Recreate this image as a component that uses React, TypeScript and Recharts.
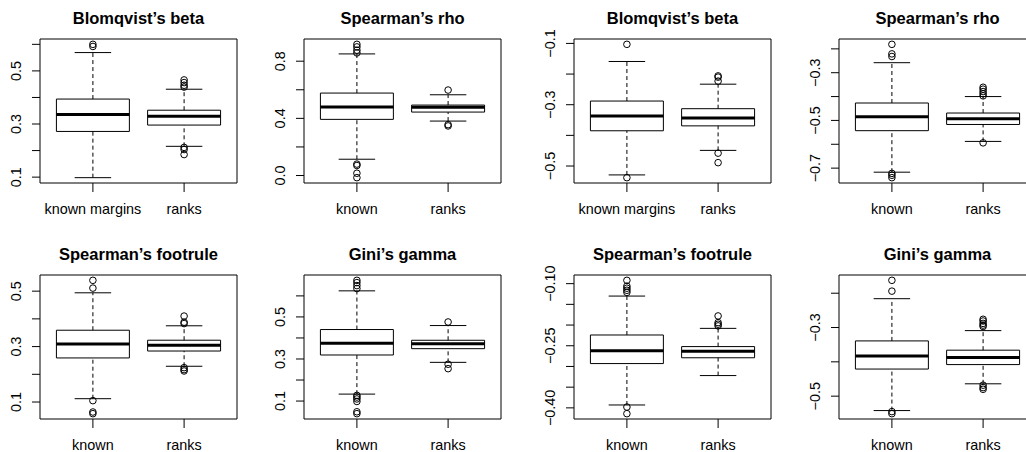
import { ScatterChart, Scatter, XAxis, YAxis, ReferenceArea, ReferenceLine } from "recharts";

// ─── Data ─────────────────────────────────────────────────────────────────────
// box stats per group: [lower whisker, Q1, median, Q3, upper whisker]
const titles = [
  "Blomqvist’s beta", "Spearman’s rho", "Blomqvist’s beta", "Spearman’s rho",
  "Spearman’s footrule", "Gini’s gamma", "Spearman’s footrule", "Gini’s gamma",
];
const longGroups = ["known margins", "ranks"];
const shortGroups = ["known", "ranks"];

const blomqvistPos = [[0.098, 0.272, 0.336, 0.394, 0.569], [0.216, 0.296, 0.329, 0.352, 0.431]];
const blomqvistPosOut = [[0.6, 0.592], [0.466, 0.456, 0.446, 0.439, 0.212, 0.204, 0.185]];
const rhoPos = [[0.114, 0.393, 0.479, 0.577, 0.851], [0.381, 0.444, 0.477, 0.493, 0.565]];
const rhoPosOut = [[0.918, 0.9, 0.877, 0.858, 0.08, 0.07, 0.016, -0.015], [0.598, 0.356, 0.347]];
const blomqvistNeg = [[-0.529, -0.385, -0.337, -0.288, -0.159], [-0.449, -0.369, -0.343, -0.313, -0.233]];
const blomqvistNegOut = [[-0.103, -0.538], [-0.206, -0.21, -0.223, -0.458, -0.489]];
const rhoNeg = [[-0.717, -0.543, -0.485, -0.427, -0.258], [-0.588, -0.517, -0.493, -0.469, -0.4]];
const rhoNegOut = [[-0.181, -0.221, -0.232, -0.722, -0.73, -0.74], [-0.361, -0.369, -0.379, -0.388, -0.397, -0.594]];
const footrulePos = [[0.112, 0.259, 0.309, 0.359, 0.494], [0.229, 0.284, 0.305, 0.323, 0.375]];
const footrulePosOut = [[0.539, 0.511, 0.105, 0.064, 0.058], [0.41, 0.388, 0.383, 0.224, 0.217, 0.212]];
const giniPos = [[0.133, 0.319, 0.375, 0.44, 0.624], [0.284, 0.349, 0.373, 0.389, 0.459]];
const giniPosOut = [[0.674, 0.663, 0.649, 0.635, 0.127, 0.119, 0.11, 0.098, 0.049, 0.04], [0.476, 0.275, 0.254]];
const footruleNeg = [[-0.393, -0.293, -0.262, -0.224, -0.13], [-0.322, -0.279, -0.263, -0.252, -0.208]];
const footruleNegOut = [[-0.092, -0.106, -0.111, -0.116, -0.121, -0.398, -0.414], [-0.178, -0.194, -0.198, -0.202]];
const giniNeg = [[-0.542, -0.421, -0.383, -0.339, -0.216], [-0.464, -0.408, -0.387, -0.366, -0.309]];
const giniNegOut = [[-0.1625, -0.194, -0.545, -0.551], [-0.276, -0.281, -0.288, -0.293, -0.297, -0.468, -0.475, -0.48]];

// y ticks (all) and the ones that carry a label
const ticks1 = [0.1, 0.2, 0.3, 0.4, 0.5, 0.6];
const ticks2 = [0, 0.2, 0.4, 0.6, 0.8];
const ticks3 = [-0.5, -0.4, -0.3, -0.2, -0.1];
const ticks4 = [-0.7, -0.6, -0.5, -0.4, -0.3, -0.2];
const ticks5 = [0.1, 0.2, 0.3, 0.4, 0.5];
const ticks6 = [0.1, 0.2, 0.3, 0.4, 0.5, 0.6];
const ticks7 = [-0.4, -0.35, -0.3, -0.25, -0.2, -0.15, -0.1];
const ticks8 = [-0.5, -0.4, -0.3, -0.2];
const labels1 = [0.1, 0.3, 0.5];
const labels2 = [0, 0.4, 0.8];
const labels3 = [-0.5, -0.3, -0.1];
const labels4 = [-0.7, -0.5, -0.3];
const labels5 = [0.1, 0.3, 0.5];
const labels6 = [0.1, 0.3, 0.5];
const labels7 = [-0.4, -0.25, -0.1];
const labels8 = [-0.5, -0.3];

const panels = [
  { stats: blomqvistPos, out: blomqvistPosOut, ticks: ticks1, labels: labels1, groups: longGroups, digits: 1 },
  { stats: rhoPos, out: rhoPosOut, ticks: ticks2, labels: labels2, groups: shortGroups, digits: 1 },
  { stats: blomqvistNeg, out: blomqvistNegOut, ticks: ticks3, labels: labels3, groups: longGroups, digits: 1 },
  { stats: rhoNeg, out: rhoNegOut, ticks: ticks4, labels: labels4, groups: shortGroups, digits: 1 },
  { stats: footrulePos, out: footrulePosOut, ticks: ticks5, labels: labels5, groups: shortGroups, digits: 1 },
  { stats: giniPos, out: giniPosOut, ticks: ticks6, labels: labels6, groups: shortGroups, digits: 1 },
  { stats: footruleNeg, out: footruleNegOut, ticks: ticks7, labels: labels7, groups: shortGroups, digits: 2 },
  { stats: giniNeg, out: giniNegOut, ticks: ticks8, labels: labels8, groups: shortGroups, digits: 1 },
];

// ─── Layout ───────────────────────────────────────────────────────────────────
const CHART_W = 258;
const CHART_H = 226;
const LEFTS = [0, 264, 534, 799];
const TOPS = [0, 236];
const X_DOMAIN = [0.42, 2.58];
const FONT = "'Liberation Sans', Arial, Helvetica, sans-serif";
const INK = "#000";

const fmt = (v: number, digits: number) => {
  const s = Math.abs(v).toFixed(digits);
  return v < 0 ? `\u2212${s}` : s;
};

const YTick = ({ x, y, payload, labels, digits }: any) => {
  const show = labels.some((l: number) => Math.abs(l - payload.value) < 1e-9);
  if (!show) return null;
  const bx = x - 11;
  return (
    <text x={bx} y={y} transform={`rotate(-90, ${bx}, ${y})`} textAnchor="middle"
      fontSize={14.4} fill={INK} fontFamily={FONT}>
      {fmt(payload.value, digits)}
    </text>
  );
};

const Ring = (p: any) => <circle cx={p.cx} cy={p.cy} r={3.3} fill="none" stroke={INK} strokeWidth={1} />;

const Panel = ({ idx }: { idx: number }) => {
  const p = panels[idx];
  const all = [...p.stats.flat(), ...p.out.flat()];
  const lo = Math.min(...all);
  const hi = Math.max(...all);
  const pad = (hi - lo) * 0.04;
  const yDomain = [lo - pad, hi + pad];
  const points = p.out.flatMap((vals, g) => vals.map((v) => ({ x: g + 1, y: v })));
  const left = LEFTS[idx % 4];
  const top = TOPS[Math.floor(idx / 4)];

  return (
    <div style={{ position: "absolute", left, top, width: CHART_W, height: CHART_H }}>
      <div style={{
        position: "absolute", left: 40 + 98.5, top: 10, transform: "translateX(-50%)",
        whiteSpace: "nowrap", fontSize: 16.5, lineHeight: "16.5px", fontWeight: "bold", fontFamily: FONT, color: INK,
      }}>
        {titles[idx]}
      </div>
      <ScatterChart width={CHART_W} height={CHART_H} margin={{ top: 39, right: 21, bottom: 0, left: 0 }}>
        <XAxis type="number" dataKey="x" domain={X_DOMAIN} ticks={[1, 2]} interval={0} allowDataOverflow
          height={43} axisLine={false} tickSize={9} tickMargin={12}
          tickLine={{ stroke: INK }} tick={{ fontSize: 14.4, fill: INK }}
          tickFormatter={(v: number) => p.groups[v - 1]} />
        <YAxis type="number" dataKey="y" domain={yDomain} ticks={p.ticks} interval={0} allowDataOverflow
          width={40} axisLine={false} tickSize={8} tickMargin={0} tickLine={{ stroke: INK }}
          tick={<YTick labels={p.labels} digits={p.digits} />} />
        <ReferenceArea x1={X_DOMAIN[0]} x2={X_DOMAIN[1]} y1={yDomain[0]} y2={yDomain[1]}
          fill="none" fillOpacity={0} stroke={INK} strokeWidth={1} ifOverflow="visible" />
        {p.stats.map((s, g) => {
          const c = g + 1;
          const [wLo, q1, med, q3, wHi] = s;
          return [
            <ReferenceLine key={`wu${g}`} segment={[{ x: c, y: q3 }, { x: c, y: wHi }]} stroke={INK} strokeDasharray="4 3" ifOverflow="visible" />,
            <ReferenceLine key={`wl${g}`} segment={[{ x: c, y: wLo }, { x: c, y: q1 }]} stroke={INK} strokeDasharray="4 3" ifOverflow="visible" />,
            <ReferenceLine key={`su${g}`} segment={[{ x: c - 0.2, y: wHi }, { x: c + 0.2, y: wHi }]} stroke={INK} ifOverflow="visible" />,
            <ReferenceLine key={`sl${g}`} segment={[{ x: c - 0.2, y: wLo }, { x: c + 0.2, y: wLo }]} stroke={INK} ifOverflow="visible" />,
            <ReferenceArea key={`b${g}`} x1={c - 0.4} x2={c + 0.4} y1={q1} y2={q3}
              fill="none" fillOpacity={0} stroke={INK} strokeWidth={1} ifOverflow="visible" />,
            <ReferenceLine key={`m${g}`} segment={[{ x: c - 0.4, y: med }, { x: c + 0.4, y: med }]} stroke={INK} strokeWidth={3} ifOverflow="visible" />,
          ];
        })}
        <Scatter data={points} shape={<Ring />} isAnimationActive={false} />
      </ScatterChart>
    </div>
  );
};

export default function App() {
  return (
    <div style={{
      position: "fixed", left: 0, top: 0, width: 1026, height: 452, overflow: "hidden",
      background: "#fff", fontFamily: FONT,
    }}>
      {panels.map((_, i) => <Panel key={i} idx={i} />)}
    </div>
  );
}
